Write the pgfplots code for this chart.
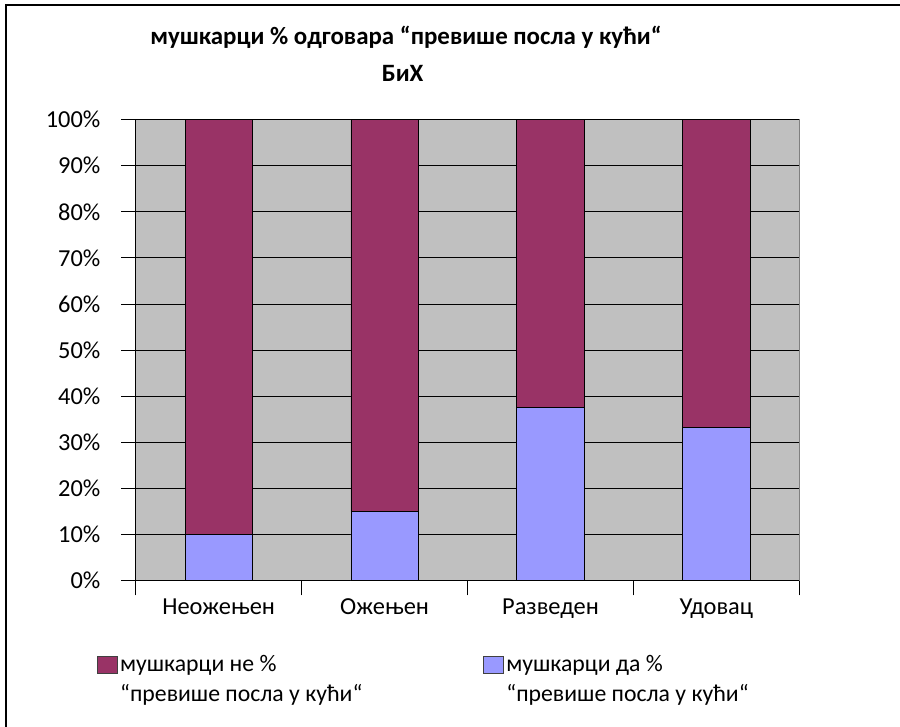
\documentclass[border=0pt]{standalone}
\usepackage{fontspec}
\setmainfont{Carlito}
\usepackage{pgfplots}
\pgfplotsset{compat=1.18}
\definecolor{cne}{HTML}{993366}
\definecolor{cda}{HTML}{9999FF}
\definecolor{plotbg}{HTML}{C0C0C0}
\begin{document}
\begin{tikzpicture}
\useasboundingbox (0,0) rectangle (675pt,-545.25pt);
\draw[line width=1.5pt] (4.5pt,-545.25pt) -- (4.5pt,-3.75pt) -- (675pt,-3.75pt);
\node[font=\bfseries\fontsize{18.7}{22}\selectfont] at (304.5pt,-27.75pt) {мушкарци \% одговара “превише посла у кући“};
\node[font=\bfseries\fontsize{18.7}{22}\selectfont] at (302pt,-55pt) {БиХ};
\begin{axis}[
  at={(101.8pt,-435.5pt)}, anchor=south west,
  width=497.7pt, height=345.75pt, scale only axis,
  ybar stacked, bar width=50.5pt,
  xmin=-0.5, xmax=3.5, ymin=0, ymax=100,
  axis x line*=bottom, axis y line*=left,
  axis line style={black, line width=0.75pt},
  axis background/.style={fill=plotbg, draw=gray, line width=0.75pt},
  xtick={-0.5,0.5,1.5,2.5,3.5}, xticklabels={},
  extra x ticks={0,1,2,3},
  extra x tick labels={Неожењен,Ожењен,Разведен,Удовац},
  extra x tick style={major tick length=0pt},
  xticklabel style={yshift=-10pt},
  ytick={0,10,...,100},
  yticklabels={0\%,10\%,20\%,30\%,40\%,50\%,60\%,70\%,80\%,90\%,100\%},
  yticklabel style={xshift=-12pt},
  tick align=outside, major tick length=11pt,
  tick style={black, line width=0.75pt},
  ymajorgrids, major grid style={black, line width=0.75pt},
  tick label style={font=\fontsize{18.3}{21}\selectfont},
  legend style={at={(-0.065,-0.15)}, anchor=north west, draw=none, fill=none,
    legend columns=2, nodes={align=left, font=\fontsize{17.8}{22.5}\selectfont},
    /tikz/every even column/.append style={column sep=88.5pt}},
  legend cell align=left,
  reverse legend,
  legend image code/.code={\draw[#1, draw=gray!50!black, line width=0.5pt] (0pt,5pt) rectangle (15pt,17.75pt);},
]
\addplot[fill=cda, draw=black, line width=0.5pt] coordinates {(0,10) (1,15) (2,37.5) (3,33.3)};
\addlegendentry{мушкарци да \%\\“превише посла у кући“}
\addplot[fill=cne, draw=black, line width=0.5pt] coordinates {(0,90) (1,85) (2,62.5) (3,66.7)};
\addlegendentry{мушкарци не \%\\“превише посла у кући“}
\end{axis}
\end{tikzpicture}
\end{document}
